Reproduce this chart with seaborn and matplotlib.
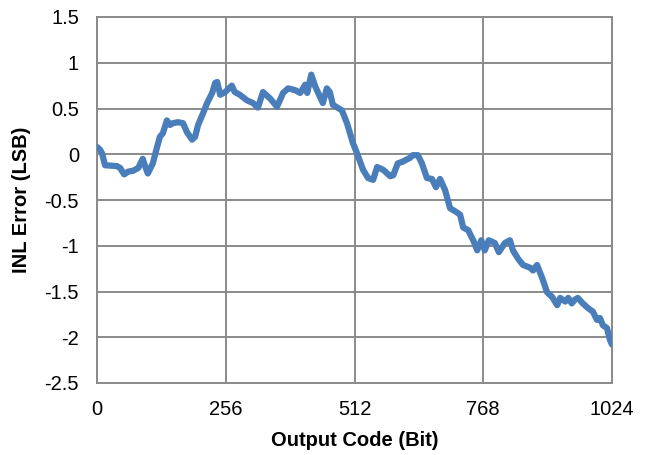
import matplotlib
matplotlib.use("Agg")
import matplotlib.pyplot as plt
import seaborn as sns
import pandas as pd

# INL error versus output code of a 10-bit converter
codes = [0, 6, 10, 16, 40, 46, 54, 62, 72, 82, 91, 95, 101, 111, 119, 125, 131, 139,
         145, 151, 161, 171, 179, 189, 195, 201, 211, 219, 229, 235, 239, 245, 255, 268,
         274, 284, 298, 310, 320, 330, 344, 358, 370, 380, 394, 404, 414, 418, 426, 434,
         449, 457, 463, 469, 487, 497, 509, 517, 529, 539, 549, 557, 569, 583, 589, 598,
         608, 622, 628, 638, 646, 656, 666, 674, 682, 692, 702, 714, 722, 728, 738, 748,
         756, 764, 771, 779, 791, 799, 811, 821, 827, 837, 847, 861, 867, 875, 885, 895,
         905, 915, 921, 931, 937, 944, 950, 956, 966, 976, 986, 994, 1000, 1006, 1014,
         1020, 1024]
inl = [0.08, 0.05, 0.01, -0.12, -0.13, -0.15, -0.22, -0.19, -0.18, -0.15, -0.05, -0.12,
       -0.21, -0.10, 0.07, 0.19, 0.23, 0.37, 0.32, 0.34, 0.35, 0.34, 0.24, 0.16, 0.19,
       0.32, 0.45, 0.56, 0.67, 0.78, 0.79, 0.65, 0.68, 0.75, 0.68, 0.65, 0.59, 0.56, 0.51,
       0.68, 0.61, 0.52, 0.67, 0.72, 0.70, 0.67, 0.76, 0.67, 0.87, 0.74, 0.56, 0.72, 0.68,
       0.54, 0.48, 0.34, 0.12, 0.01, -0.17, -0.26, -0.28, -0.14, -0.17, -0.24, -0.23,
       -0.10, -0.08, -0.04, -0.01, -0.01, -0.10, -0.26, -0.27, -0.36, -0.27, -0.39, -0.59,
       -0.63, -0.66, -0.80, -0.83, -0.94, -1.05, -0.94, -1.05, -0.94, -0.97, -1.07, -0.97,
       -0.94, -1.05, -1.14, -1.21, -1.24, -1.27, -1.21, -1.35, -1.51, -1.56, -1.65, -1.57,
       -1.61, -1.57, -1.63, -1.59, -1.57, -1.63, -1.68, -1.72, -1.81, -1.79, -1.87, -1.90,
       -2.03, -2.08]

x_ticks = [0, 256, 512, 768, 1024]
y_ticks = [1.5, 1, 0.5, 0, -0.5, -1, -1.5, -2, -2.5]

df = pd.DataFrame({"code": codes, "inl": inl})

sns.set_style("white")
plt.rcParams["font.family"] = ["Liberation Sans", "DejaVu Sans"]
plt.rcParams["axes.unicode_minus"] = False

fig = plt.figure(figsize=(6.51, 4.55), dpi=100)
ax = fig.add_axes([97 / 651, 1 - 383 / 455, 515 / 651, 366 / 455])

sns.lineplot(data=df, x="code", y="inl", ax=ax, color="#4a7ebb", linewidth=4.5,
             sort=False, zorder=3)

ax.set_xlim(0, 1024)
ax.set_ylim(-2.5, 1.5)
ax.set_xticks(x_ticks)
ax.set_yticks(y_ticks)
ax.set_xticklabels([str(t) for t in x_ticks])
ax.set_yticklabels([f"{t:g}" for t in y_ticks])
ax.grid(True, color="#8a8a8a", linewidth=1.4)
ax.set_axisbelow(True)
for s in ax.spines.values():
    s.set_color("#8a8a8a")
    s.set_linewidth(1.4)

ax.tick_params(axis="both", length=0, labelsize=14.5, colors="black")
ax.tick_params(axis="x", pad=12)
ax.tick_params(axis="y", pad=13)

ax.set_xlabel("Output Code (Bit)", fontsize=14.5, fontweight="bold", labelpad=9,
              color="black")
ax.set_ylabel("INL Error (LSB)", fontsize=14.5, fontweight="bold", labelpad=10,
              color="black")

fig.savefig("out.png", dpi=100, facecolor="white")
